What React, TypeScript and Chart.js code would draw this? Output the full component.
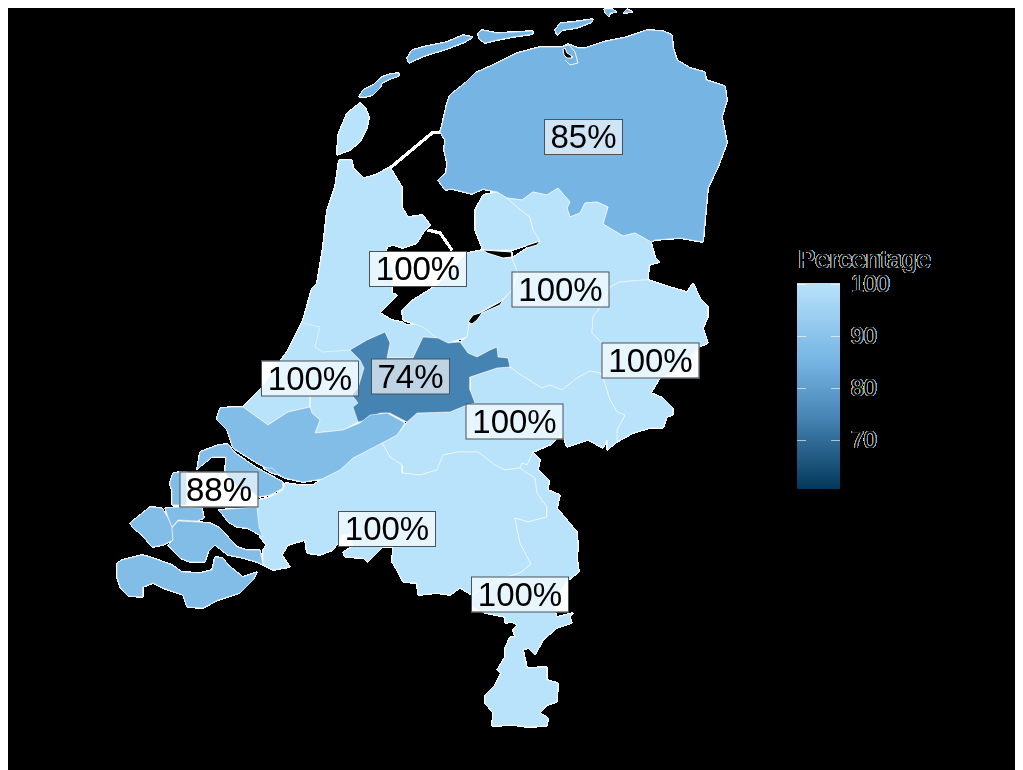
import React, { useEffect, useRef } from "react";
import { Chart, registerables } from "chart.js";

Chart.register(...registerables);

type Pt = [number, number];

// Region outlines in map units
const noord: Pt[] = [[442,125],[447,103],[450,95],[465,83],[475,73],[493,65],[517,53],[540,47],[562,47],[568,44],[578,48],[585,48],[603,42],[627,37],[647,30],[663,31],[672,35],[673,47],[677,60],[690,68],[705,72],[706,80],[725,86],[727,100],[722,117],[727,143],[718,167],[708,188],[703,242],[680,238],[655,240],[651,242],[635,233],[623,236],[603,224],[608,207],[597,202],[585,203],[580,213],[570,217],[567,208],[570,202],[558,188],[547,195],[533,192],[522,200],[507,198],[497,192],[483,189],[472,194],[452,189],[445,190],[438,180],[446,173],[447,163],[444,150],[445,140],[440,132]];
const vlieland: Pt[] = [[359,97],[363,90],[373,85],[382,77],[390,74],[399,73],[399,76],[390,79],[382,83],[380,88],[373,95],[365,97]];
const terschelling: Pt[] = [[407,58],[412,50],[427,46],[447,42],[463,35],[473,37],[465,42],[447,49],[427,55],[415,60],[409,63]];
const ameland: Pt[] = [[478,33],[482,30],[497,33],[517,32],[533,31],[533,34],[513,37],[497,40],[485,43],[479,39]];
const schiermonnikoog: Pt[] = [[555,30],[560,23],[573,22],[593,19],[592,22],[577,28],[563,30],[557,35]];
const rottumeroog: Pt[] = [[604,9],[612,9],[617,12],[610,13],[609,17],[606,14]];
const rottumerplaat: Pt[] = [[623,13],[627,9],[633,12]];
const texel: Pt[] = [[337,155],[338,135],[347,113],[360,103],[365,107],[369,117],[367,128],[360,142],[350,150]];
const holland: Pt[] = [[339,160],[335,187],[327,210],[323,247],[317,283],[312,288],[303,320],[288,350],[262,387],[243,407],[268,425],[288,412],[310,407],[312,413],[320,420],[315,433],[343,430],[358,422],[358,403],[352,395],[358,388],[364,368],[360,360],[350,350],[367,340],[385,332],[390,343],[387,358],[413,358],[423,337],[437,338],[420,324],[407,325],[402,322],[392,320],[380,313],[397,295],[392,293],[392,286],[393,270],[385,255],[387,247],[393,245],[403,248],[417,243],[423,233],[430,225],[423,215],[408,217],[402,207],[402,187],[390,167],[375,175],[364,178],[353,168],[352,160]];
const flevoland: Pt[] = [[467,253],[483,250],[503,258],[512,258],[518,273],[512,290],[500,302],[487,308],[470,320],[467,337],[448,343],[437,338],[423,327],[403,320],[402,310],[413,300],[437,285]];
const polder: Pt[] = [[497,192],[483,195],[475,210],[475,230],[483,250],[512,250],[525,246],[540,241],[533,230],[530,217],[517,207],[507,198]];
const overijssel: Pt[] = [[507,198],[522,200],[533,192],[547,195],[558,188],[570,202],[567,208],[570,217],[580,213],[585,203],[597,202],[608,207],[603,224],[623,236],[635,233],[651,242],[655,257],[660,262],[649,265],[648,280],[643,280],[620,282],[610,287],[600,307],[593,317],[592,333],[602,343],[603,378],[600,373],[590,371],[577,378],[562,390],[550,385],[542,388],[532,382],[518,373],[510,367],[508,358],[498,357],[497,347],[490,350],[477,357],[468,353],[460,342],[467,337],[470,320],[487,308],[503,300],[512,290],[518,273],[512,258],[527,248],[540,241],[533,230],[530,217],[517,207]];
const twente: Pt[] = [[648,280],[673,288],[687,292],[693,283],[700,298],[708,307],[708,317],[703,328],[708,343],[699,347],[690,358],[675,372],[660,378],[603,378],[602,343],[592,333],[593,317],[600,307],[610,287],[620,282],[643,280]];
const achterhoek: Pt[] = [[603,378],[660,378],[651,393],[663,398],[673,408],[673,415],[667,417],[663,428],[650,428],[633,433],[617,442],[617,430],[625,415],[617,412],[610,400]];
const rivieren: Pt[] = [[470,377],[470,390],[475,403],[467,405],[450,412],[417,413],[407,422],[397,435],[382,443],[390,457],[402,465],[402,473],[420,475],[437,470],[443,455],[458,452],[478,452],[495,465],[505,470],[520,468],[522,463],[527,465],[533,452],[552,444],[562,433],[567,447],[588,440],[603,448],[607,440],[607,450],[617,442],[617,430],[625,415],[617,412],[610,400],[603,378],[600,373],[590,371],[577,378],[562,390],[550,385],[542,388],[532,382],[518,373],[510,367],[497,368]];
const brabant: Pt[] = [[322,479],[340,470],[353,458],[382,443],[390,457],[402,465],[402,473],[420,475],[437,470],[443,455],[458,452],[478,452],[495,465],[505,470],[520,468],[535,478],[537,493],[547,507],[547,517],[528,522],[515,518],[520,543],[531,564],[520,573],[503,578],[480,590],[472,595],[460,588],[450,595],[437,593],[418,595],[417,583],[403,582],[398,572],[392,562],[393,547],[383,547],[368,562],[363,558],[345,557],[343,552],[353,546],[350,534],[342,535],[338,543],[333,550],[320,555],[307,553],[305,540],[288,545],[282,555],[290,567],[273,570],[263,565],[263,550],[266,545],[260,537],[257,527],[258,507],[258,500],[270,497],[283,490],[285,483],[300,485],[313,485]];
const limburg: Pt[] = [[520,468],[522,463],[527,465],[533,452],[540,460],[538,470],[549,480],[548,490],[560,495],[557,508],[567,520],[577,532],[578,547],[577,558],[579,572],[566,582],[556,598],[555,612],[557,617],[573,613],[570,617],[572,623],[557,628],[543,640],[535,655],[528,648],[523,650],[527,668],[547,667],[547,680],[558,683],[557,702],[547,705],[540,713],[548,718],[547,726],[527,727],[513,725],[492,726],[493,713],[485,703],[485,695],[495,685],[501,673],[497,670],[505,657],[505,648],[510,637],[515,637],[513,630],[517,625],[512,622],[505,623],[505,617],[485,613],[472,607],[472,595],[480,590],[503,578],[520,573],[531,564],[520,543],[515,518],[528,522],[547,517],[547,507],[537,493],[535,478]];
const utrecht: Pt[] = [[423,337],[438,338],[448,343],[460,342],[468,353],[477,357],[490,350],[497,347],[498,357],[508,358],[510,367],[497,368],[470,377],[470,390],[475,403],[467,405],[450,412],[417,413],[407,422],[390,413],[380,413],[367,420],[358,422],[353,407],[358,403],[352,395],[358,388],[364,368],[360,360],[350,350],[367,340],[385,332],[390,343],[387,358],[413,358]];
const zuidHolland: Pt[] = [[217,417],[220,408],[233,407],[243,407],[268,425],[288,412],[310,407],[312,413],[320,420],[315,433],[343,430],[360,423],[370,415],[387,413],[405,423],[397,435],[382,443],[353,458],[340,470],[322,479],[303,482],[285,478],[257,463],[233,448],[227,430],[217,420]];
const goeree: Pt[] = [[200,452],[218,445],[228,444],[235,453],[257,468],[283,482],[283,488],[270,495],[258,497],[250,490],[240,490],[225,473],[226,457],[212,457],[202,465],[197,470]];
const schouwen: Pt[] = [[170,482],[173,473],[181,472],[187,472],[187,505],[172,505],[172,490],[170,485]];
const walcheren: Pt[] = [[130,523],[150,507],[162,508],[168,518],[172,527],[173,540],[163,545],[152,547],[142,535],[133,528]];
const noordBeveland: Pt[] = [[165,508],[180,507],[202,508],[204,518],[197,521],[178,520],[172,527],[168,517]];
const tholen: Pt[] = [[218,510],[257,507],[259,527],[263,537],[260,535],[247,528],[237,527],[228,522],[223,515]];
const zuidBeveland: Pt[] = [[172,528],[178,521],[197,522],[210,523],[220,528],[228,537],[237,547],[247,550],[260,550],[263,565],[257,562],[243,558],[228,555],[215,545],[208,552],[205,562],[190,562],[180,558],[168,545],[173,540]];
const zeeuwsVlaanderen: Pt[] = [[117,563],[122,560],[142,555],[150,557],[172,565],[182,572],[200,573],[212,570],[215,557],[223,558],[228,565],[243,577],[257,572],[253,580],[240,593],[218,600],[203,608],[187,607],[183,595],[163,588],[153,583],[143,587],[143,597],[128,596],[120,587],[117,577]];
const tiengemeten: Pt[] = [[263,468],[272,468],[280,475],[272,473]];

// Inland water slivers
const lauwersmeer: Pt[] = [[563,49],[565,48],[567,53],[572,56],[572,58],[567,58],[564,55]];
const randmeerA: Pt[] = [[468,322],[473,315],[480,313],[500,302],[503,300],[500,305],[482,313],[477,320],[472,324]];
const randmeerB: Pt[] = [[483,250],[512,252],[512,257],[503,258],[487,253]];
const randmeerC: Pt[] = [[525,246],[540,241],[537,245],[527,248]];

// Dikes and thin inner borders
const afsluitdijk: Pt[] = [[440,132],[432,133],[390,168]];
const houtribdijk: Pt[] = [[428,230],[440,233],[452,250]];
const hollandBorder: Pt[] = [[303,323],[320,327],[315,347],[323,352],[350,350]];
const hollandBorder2: Pt[] = [[310,395],[310,407]];
const lauwersRing: Pt[] = [[563,46],[569,45],[575,52],[578,63],[570,65],[565,60]];

// Region values (percent)
const values85 = 85;
const values88 = 88;
const values74 = 74;
const values100 = 100;

// Labels
const labelTexts = ["85%", "100%", "100%", "100%", "100%", "74%", "100%", "88%", "100%", "100%"];
const labelX = [583.5, 418, 560.5, 650.5, 310, 410.5, 514.5, 219, 387, 520];
const labelY = [137, 269, 289.5, 360.5, 378.5, 376.5, 421.5, 489.5, 529, 594.5];

// Colour bar
const legendTitle = "Percentage";
const legendTicks = [100, 90, 80, 70];
const legendMin = 60.6;
const colourStops: [number, string][] = [[100, "#b9e2fb"], [88, "#82bde8"], [85, "#76b5e3"], [74, "#4583b3"], [60.6, "#03385a"]];

function colourFor(v: number): string {
  const hit = colourStops.find((s) => s[0] === v);
  return hit ? hit[1] : "#000000";
}

function polygon(points: Pt[], value: number, stroke = "rgba(255,255,255,0.55)") {
  const data = [...points, points[0]].map(([x, y]) => ({ x, y }));
  return { data, showLine: true, fill: "shape", backgroundColor: colourFor(value), borderColor: stroke, borderWidth: 1, pointRadius: 0, tension: 0, borderJoinStyle: "round" as const };
}
function water(points: Pt[]) {
  const data = [...points, points[0]].map(([x, y]) => ({ x, y }));
  return { data, showLine: true, fill: "shape", backgroundColor: "#000000", borderColor: "#ffffff", borderWidth: 1, pointRadius: 0, tension: 0 };
}
function line(points: Pt[], colour: string, width: number) {
  return { data: points.map(([x, y]) => ({ x, y })), showLine: true, fill: false, borderColor: colour, borderWidth: width, pointRadius: 0, tension: 0 };
}

const mapLabels = {
  id: "mapLabels",
  afterDatasetsDraw(chart: any) {
    const { ctx, scales } = chart;
    ctx.save();
    ctx.textAlign = "center";
    ctx.textBaseline = "middle";
    ctx.font = '33px "Liberation Sans"';
    labelTexts.forEach((t, i) => {
      const cx = scales.x.getPixelForValue(labelX[i]);
      const cy = scales.y.getPixelForValue(labelY[i]);
      const w = t.length === 4 ? 97 : 78;
      const h = 35;
      ctx.fillStyle = "rgba(255,255,255,0.65)";
      ctx.fillRect(cx - w / 2, cy - h / 2, w, h);
      ctx.strokeStyle = "#4a5358";
      ctx.lineWidth = 1;
      ctx.strokeRect(cx - w / 2, cy - h / 2, w, h);
      ctx.fillStyle = "#000000";
      ctx.fillText(t, cx, cy + 2);
    });
    ctx.restore();
  },
};

function fringedText(ctx: any, text: string, x: number, y: number) {
  ctx.fillStyle = "#c09a60";
  ctx.fillText(text, x - 0.8, y);
  ctx.fillStyle = "#6aa8dc";
  ctx.fillText(text, x + 0.8, y);
  ctx.fillStyle = "#000000";
  ctx.fillText(text, x, y);
}

const colourBar = {
  id: "colourBar",
  afterDatasetsDraw(chart: any) {
    const { ctx, scales } = chart;
    const px = (v: number) => scales.x.getPixelForValue(v);
    const py = (v: number) => scales.y.getPixelForValue(v);
    const barLeft = px(797);
    const barRight = px(840);
    const valueToY = (v: number) => py(284 + (100 - v) * 5.2);
    const top = valueToY(100) - 1;
    const bottom = valueToY(legendMin);
    const g = ctx.createLinearGradient(0, top, 0, bottom);
    colourStops.forEach(([v, c]) => g.addColorStop((100 - v) / (100 - legendMin), c));
    ctx.save();
    ctx.fillStyle = g;
    ctx.fillRect(barLeft, top, barRight - barLeft, bottom - top);
    ctx.strokeStyle = "rgba(255,255,255,0.6)";
    ctx.lineWidth = 1;
    ctx.font = '23px "Liberation Sans"';
    ctx.textAlign = "left";
    ctx.textBaseline = "middle";
    legendTicks.forEach((v) => {
      const y = Math.round(valueToY(v)) + 0.5;
      ctx.beginPath();
      ctx.moveTo(barLeft, y);
      ctx.lineTo(barLeft + 9, y);
      ctx.moveTo(barRight - 9, y);
      ctx.lineTo(barRight, y);
      ctx.stroke();
      fringedText(ctx, String(v), px(851), y + 1);
    });
    ctx.font = '26px "Liberation Sans"';
    ctx.textBaseline = "alphabetic";
    fringedText(ctx, legendTitle, px(798), py(268));
    ctx.restore();
  },
};

// The picture has no backdrop: every pixel's colour is shown at full opacity
const flatten = {
  id: "flatten",
  afterDraw(chart: any) {
    const { ctx, canvas } = chart;
    const img = ctx.getImageData(0, 0, canvas.width, canvas.height);
    const d = img.data;
    for (let i = 3; i < d.length; i += 4) d[i] = 255;
    ctx.putImageData(img, 0, 0);
  },
};

export default function App() {
  const ref = useRef<HTMLCanvasElement | null>(null);
  useEffect(() => {
    document.documentElement.style.overflow = "hidden";
    const datasets: any[] = [
      polygon(noord, values85),
      polygon(vlieland, values85),
      polygon(terschelling, values85),
      polygon(ameland, values85),
      polygon(schiermonnikoog, values85),
      polygon(rottumeroog, values85),
      polygon(rottumerplaat, values85),
      polygon(texel, values100),
      polygon(holland, values100),
      polygon(flevoland, values100),
      polygon(polder, values100),
      polygon(overijssel, values100),
      polygon(twente, values100),
      polygon(achterhoek, values100),
      polygon(rivieren, values100),
      polygon(brabant, values100),
      polygon(limburg, values100),
      polygon(utrecht, values74),
      polygon(zuidHolland, values88),
      polygon(goeree, values88),
      polygon(schouwen, values88),
      polygon(walcheren, values88),
      polygon(noordBeveland, values88),
      polygon(tholen, values88),
      polygon(zuidBeveland, values88),
      polygon(zeeuwsVlaanderen, values88),
      polygon(tiengemeten, values88),
      water(lauwersmeer),
      water(randmeerA),
      water(randmeerB),
      water(randmeerC),
      line(lauwersRing, "rgba(255,255,255,0.9)", 1),
      line(afsluitdijk, "#ffffff", 2),
      line(houtribdijk, "#ffffff", 2),
      line(hollandBorder, "rgba(255,255,255,0.55)", 1),
      line(hollandBorder2, "rgba(255,255,255,0.55)", 1),
    ].reverse();
    const chart = new Chart(ref.current as HTMLCanvasElement, {
      type: "scatter",
      data: { datasets },
      options: {
        animation: false,
        responsive: false,
        devicePixelRatio: 1,
        layout: { padding: 0 },
        scales: {
          x: { type: "linear", min: 8, max: 1023, display: false },
          y: { type: "linear", min: 8, max: 770, reverse: true, display: false },
        },
        plugins: { legend: { display: false }, tooltip: { enabled: false } },
        events: [],
      },
      plugins: [mapLabels, colourBar, flatten],
    } as any);
    return () => chart.destroy();
  }, []);
  return <canvas ref={ref} width={1015} height={762} style={{ display: "block", width: 1015, height: 762, filter: "blur(0.4px)" }} />;
}
